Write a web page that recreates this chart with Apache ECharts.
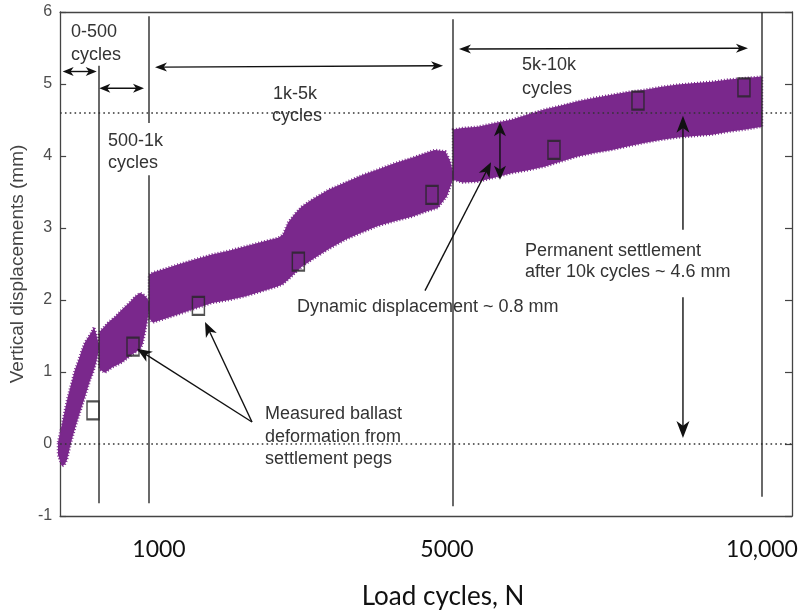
<!DOCTYPE html>
<html>
<head>
<meta charset="utf-8">
<script src="https://cdn.jsdelivr.net/npm/echarts@6/dist/echarts.min.js"></script>
<style>
  html, body { margin: 0; padding: 0; background: #ffffff; }
  #chart { width: 802px; height: 615px; }
</style>
</head>
<body>
<div id="chart"></div>
<script>
// Recording windows, in load cycles
const windows = [[0, 500], [500, 1000], [1000, 5000], [5000, 10000]];
const xTickLabels = [null, '1000', '5000', '10,000'];

// Upper / lower envelope of the measured vertical displacement band, [cycles, mm]
const upper0 = [[0,0.07],[25,0.2],[50,0.33],[85,0.52],[120,0.7],[160,0.87],[207,1.07],[250,1.2],[290,1.34],[329,1.45],[370,1.52],[415,1.6],[439,1.66],[465,1.57],[488,1.46],[500,1.42]];
const lower0 = [[0,-0.1],[30,-0.2],[49,-0.26],[80,-0.24],[110,-0.17],[140,-0.02],[171,0.12],[230,0.35],[293,0.57],[340,0.74],[390,0.92],[430,1.04],[460,1.15],[488,1.29],[500,1.35]];

const upper1 = [[500,1.55],[510,1.6],[550,1.66],[590,1.72],[660,1.8],[730,1.9],[800,1.99],[860,2.08],[910,2.13],[950,2.1],[980,2.06],[1000,2.0]];
const lower1 = [[500,1.12],[510,1.07],[560,1.03],[630,1.1],[730,1.17],[830,1.28],[910,1.35],[935,1.42],[960,1.58],[990,1.8],[1000,1.9]];

const upper2 = [[1000,2.38],[1050,2.41],[1200,2.46],[1380,2.52],[1600,2.59],[1830,2.66],[2050,2.71],[2260,2.77],[2480,2.83],[2700,2.89],[2760,2.93],[2830,3.1],[2920,3.22],[3010,3.32],[3150,3.42],[3360,3.55],[3580,3.65],[3800,3.75],[4010,3.83],[4240,3.92],[4460,3.99],[4620,4.05],[4760,4.1],[4900,4.08],[4960,3.95],[5000,3.8]];
const lower2 = [[1000,1.78],[1050,1.72],[1200,1.77],[1380,1.83],[1600,1.91],[1830,1.99],[2050,2.03],[2260,2.08],[2480,2.15],[2700,2.22],[2760,2.25],[2830,2.31],[3010,2.49],[3150,2.59],[3360,2.73],[3580,2.86],[3800,2.96],[4010,3.05],[4240,3.12],[4460,3.18],[4650,3.25],[4800,3.3],[4920,3.46],[5000,3.7]];

const upper3 = [[5000,4.38],[5150,4.4],[5400,4.42],[5680,4.47],[5960,4.52],[6220,4.59],[6490,4.66],[6750,4.71],[7020,4.77],[7300,4.82],[7570,4.86],[7840,4.9],[8110,4.93],[8380,4.97],[8640,5.0],[8920,5.02],[9190,5.04],[9460,5.07],[9730,5.09],[10000,5.11]];
const lower3 = [[5000,3.69],[5150,3.65],[5400,3.66],[5680,3.72],[5960,3.78],[6220,3.82],[6490,3.87],[6750,3.94],[7020,4.01],[7300,4.06],[7570,4.1],[7840,4.15],[8110,4.2],[8380,4.24],[8640,4.27],[8920,4.29],[9190,4.31],[9460,4.35],[9730,4.38],[10000,4.42]];

// Settlement peg readings, [cycles, mm]
const pegs0 = [[427, 0.51]];
const pegs1 = [[840, 1.39]];
const pegs2 = [[1650, 1.95], [2965, 2.56], [4724, 3.48]];
const pegs3 = [[6634, 4.1], [7993, 4.78], [9708, 4.96]];

// Reference levels (mm)
const permanentSettlement = 4.6;
const baseline = 0;

const uppers = [upper0, upper1, upper2, upper3];
const lowers = [lower0, lower1, lower2, lower3];
const pegs = [pegs0, pegs1, pegs2, pegs3];

// ---- layout ----
const PURPLE = '#7a288c';
const INK = '#333333';
const FRAME = { left: 58, right: 10, top: 12, bottom: 95 };
const segLeft = [58, 99, 149, 453];
const segWidth = [41, 50, 304, 309];
const labelPad = [[0, 0, 0, 0], [0, 0, 0, 20], [0, 12, 0, 0], [0, 0, 0, 0]];

const chart = echarts.init(document.getElementById('chart'), null, { renderer: 'canvas' });

const grids = [], xAxes = [], yAxes = [], series = [];
windows.forEach((w, i) => {
  grids.push({ left: segLeft[i], width: segWidth[i], top: FRAME.top, bottom: FRAME.bottom });
  xAxes.push({
    type: 'value', gridIndex: i, min: w[0], max: w[1],
    axisLine: { show: false, onZero: false }, axisTick: { show: false }, splitLine: { show: false },
    axisLabel: xTickLabels[i] ? {
      show: true, customValues: [w[1]], formatter: () => xTickLabels[i],
      fontFamily: 'Lato', fontSize: 23, color: '#111', margin: 18, padding: labelPad[i]
    } : { show: false }
  });
  yAxes.push({ type: 'value', gridIndex: i, min: -1, max: 6, show: false });
  const up = uppers[i], lo = lowers[i];
  series.push({
    type: 'custom', xAxisIndex: i, yAxisIndex: i, silent: true, clip: false, z: 2,
    data: up,
    renderItem: function (params, api) {
      if (params.dataIndex !== 0) return null;
      const pts = up.map(p => api.coord(p)).concat(lo.slice().reverse().map(p => api.coord(p)));
      return {
        type: 'polygon', shape: { points: pts },
        style: { fill: PURPLE, stroke: PURPLE, lineWidth: 2.5, lineDash: [1, 2] }
      };
    }
  });
  series.push({
    type: 'scatter', xAxisIndex: i, yAxisIndex: i, silent: true, z: 5,
    symbol: 'rect', symbolSize: [12, 18], data: pegs[i],
    itemStyle: { color: 'rgba(0,0,0,0)', borderColor: '#262626', borderWidth: 1.8 }
  });
});

// Frame grid carrying the visible box, y ticks and axis titles
const F = windows.length;
const frameLine = { show: true, onZero: false, lineStyle: { color: '#444', width: 1.3 } };
grids.push({ left: FRAME.left, right: FRAME.right, top: FRAME.top, bottom: FRAME.bottom });
xAxes.push({
  type: 'value', gridIndex: F, min: 0, max: 1, position: 'bottom',
  axisLine: frameLine,
  axisTick: { show: false }, axisLabel: { show: false }, splitLine: { show: false },
  name: 'Load cycles, N', nameLocation: 'middle', nameGap: 68,
  nameTextStyle: { fontFamily: 'Lato', fontSize: 26, color: '#111', padding: [0, 0, 0, 34] }
});
xAxes.push({
  type: 'value', gridIndex: F, min: 0, max: 1, position: 'top',
  axisLine: frameLine,
  axisTick: { show: false }, axisLabel: { show: false }, splitLine: { show: false }
});
yAxes.push({
  type: 'value', gridIndex: F, min: -1, max: 6, interval: 1, position: 'left',
  axisLine: frameLine,
  axisTick: { show: true, inside: true, length: 6, lineStyle: { color: '#444', width: 1.2 } },
  axisLabel: { color: '#4d4d4d', fontFamily: 'Liberation Sans', fontSize: 16, margin: 8, padding: [4, 0, 0, 0] },
  splitLine: { show: false },
  name: 'Vertical displacements (mm)', nameLocation: 'middle', nameGap: 30,
  nameTextStyle: { fontFamily: 'Liberation Sans', fontSize: 19, color: '#444' }
});
yAxes.push({
  type: 'value', gridIndex: F, min: -1, max: 6, interval: 1, position: 'right',
  axisLine: frameLine,
  axisTick: { show: true, inside: true, length: 7, lineStyle: { color: '#444', width: 1.2 } },
  axisLabel: { show: false }, splitLine: { show: false }
});
series.push({
  type: 'line', xAxisIndex: F, yAxisIndex: F, data: [], silent: true, z: 3,
  markLine: {
    silent: true, symbol: 'none', label: { show: false },
    lineStyle: { type: [1.6, 3.2], color: '#333', width: 1.5 },
    data: [{ yAxis: permanentSettlement }, { yAxis: baseline }]
  }
});

chart.setOption({
  animation: false,
  backgroundColor: '#ffffff',
  grid: grids, xAxis: xAxes, yAxis: yAxes, series: series
});

// ---- annotations, placed in each window's own (cycles, mm) coordinates ----
const P = (seg, n, v) => chart.convertToPixel({ xAxisIndex: seg, yAxisIndex: seg }, [n, v]);

// window boundaries: [window, cycles, top mm, bottom mm]
const boundaries = [
  [0, 500, 5.26, -0.77],
  [1, 1000, 5.94, 4.47],
  [1, 1000, 3.75, -0.77],
  [2, 5000, 5.9, -0.81],
  [3, 10000, 6.0, -0.68]
];

// arrows: from/to as [window, cycles, mm]; heads: 'both' | 'end'; head size [length, width]
const arrows = [
  { from: [0, 57, 5.18], to: [0, 472, 5.18], heads: 'both', size: [11, 9] },
  { from: [1, 503, 4.95], to: [1, 950, 4.95], heads: 'both', size: [11, 9] },
  { from: [2, 1079, 5.24], to: [2, 4869, 5.26], heads: 'both', size: [12, 9] },
  { from: [3, 5097, 5.49], to: [3, 9773, 5.5], heads: 'both', size: [12, 9] },
  { from: [3, 5760, 4.48], to: [3, 5760, 3.69], heads: 'both', size: [14, 12] },
  { from: [3, 4547, 2.16], to: [3, 5615, 3.93], heads: 'end', size: [15, 12] },
  { from: [3, 8721, 3.0], to: [3, 8721, 4.57], heads: 'end', size: [17, 13] },
  { from: [3, 8721, 2.07], to: [3, 8721, 0.13], heads: 'end', size: [17, 13] },
  { from: [2, 2355, 0.35], to: [1, 880, 1.36], heads: 'end', size: [15, 12] },
  { from: [2, 2355, 0.35], to: [2, 1737, 1.73], heads: 'end', size: [15, 12] }
];

const notes = [
  { text: '0-500', x: 71, y: 32 },
  { text: 'cycles', x: 71, y: 55 },
  { text: '500-1k', x: 108, y: 141 },
  { text: 'cycles', x: 108, y: 163 },
  { text: '1k-5k', x: 273, y: 94 },
  { text: 'cycles', x: 272, y: 116 },
  { text: '5k-10k', x: 522, y: 65 },
  { text: 'cycles', x: 522, y: 89 },
  { text: 'Permanent settlement', x: 525, y: 251 },
  { text: 'after 10k cycles ~ 4.6 mm', x: 525, y: 272 },
  { text: 'Dynamic displacement ~ 0.8 mm', x: 297, y: 307 },
  { text: 'Measured ballast', x: 265, y: 414 },
  { text: 'deformation from', x: 265, y: 437 },
  { text: 'settlement pegs', x: 265, y: 459 }
];

function head(tip, dir, size) {
  const [L, W] = size;
  const px = -dir[1], py = dir[0];
  const bx = tip[0] - dir[0] * L, by = tip[1] - dir[1] * L;
  const nx = tip[0] - dir[0] * L * 0.72, ny = tip[1] - dir[1] * L * 0.72;
  return {
    type: 'polygon', silent: true, z: 20,
    shape: { points: [tip, [bx + px * W / 2, by + py * W / 2], [nx, ny], [bx - px * W / 2, by - py * W / 2]] },
    style: { fill: '#111' }
  };
}

const graphics = [];
boundaries.forEach(b => {
  const a = P(b[0], b[1], b[2]), c = P(b[0], b[1], b[3]);
  graphics.push({
    type: 'line', silent: true, z: 15,
    shape: { x1: a[0], y1: a[1], x2: c[0], y2: c[1] },
    style: { stroke: '#2a2a2a', lineWidth: 1.4 }
  });
});
arrows.forEach(ar => {
  const a = P(ar.from[0], ar.from[1], ar.from[2]);
  const b = P(ar.to[0], ar.to[1], ar.to[2]);
  const dx = b[0] - a[0], dy = b[1] - a[1];
  const len = Math.hypot(dx, dy);
  const d = [dx / len, dy / len];
  const s = ar.heads === 'both' ? [a[0] + d[0] * ar.size[0] * 0.6, a[1] + d[1] * ar.size[0] * 0.6] : a;
  const e = [b[0] - d[0] * ar.size[0] * 0.6, b[1] - d[1] * ar.size[0] * 0.6];
  graphics.push({
    type: 'line', silent: true, z: 19,
    shape: { x1: s[0], y1: s[1], x2: e[0], y2: e[1] },
    style: { stroke: '#111', lineWidth: 1.4 }
  });
  graphics.push(head(b, d, ar.size));
  if (ar.heads === 'both') graphics.push(head(a, [-d[0], -d[1]], ar.size));
});
notes.forEach(n => {
  graphics.push({
    type: 'text', silent: true, z: 25, x: n.x, y: n.y,
    style: {
      text: n.text, fill: INK, font: '18px "Liberation Sans", Arial, sans-serif',
      textAlign: 'left', textVerticalAlign: 'middle'
    }
  });
});

chart.setOption({ graphic: graphics });
</script>
</body>
</html>
